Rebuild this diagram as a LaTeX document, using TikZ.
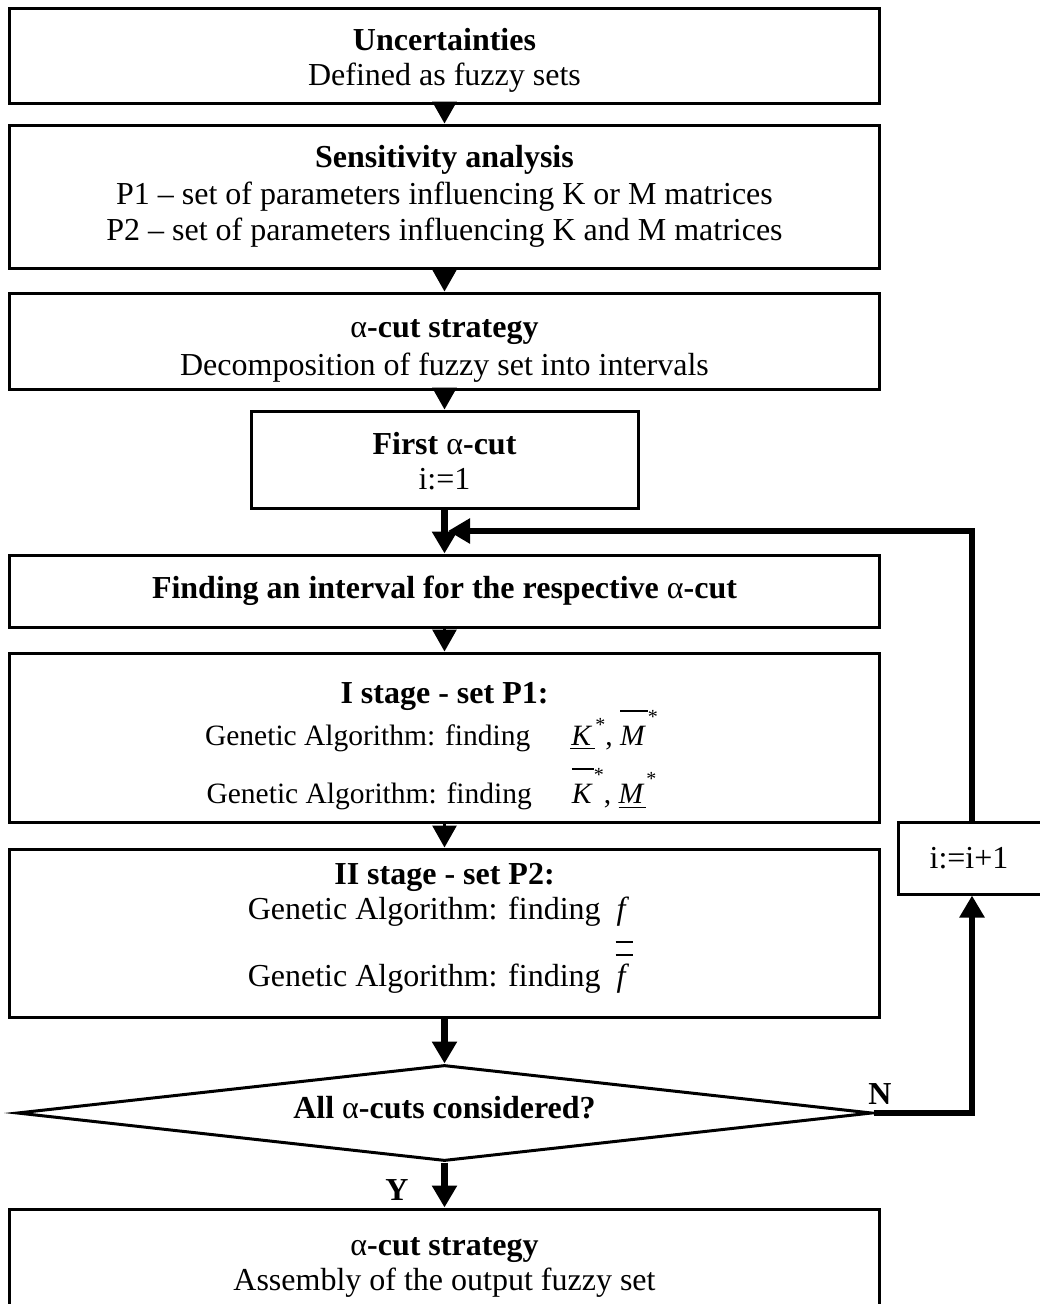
\documentclass[tikz,border=0pt]{standalone}
\usepackage{fontspec}
\setmainfont{Liberation Serif}
\usetikzlibrary{arrows.meta,shapes.geometric}

% upright alpha, also inside bold text
\newcommand\alp{{\normalfont α}}
% bar above / below a symbol, without changing the line height
\newcommand\highbar[2]{\setbox0=\hbox{#2}\rlap{\raisebox{#1}[0pt][0pt]{\rule{\wd0}{1.4pt}}}\box0}
\newcommand\lowbar[2]{\setbox0=\hbox{#2}\rlap{\raisebox{-#1}[0pt][0pt]{\rule{\wd0}{1.4pt}}}\box0}
% raised asterisk
\newcommand\starat[1]{\raisebox{#1}[0pt][0pt]{\fontsize{20}{20}\selectfont *}}

\begin{document}
\begin{tikzpicture}[x=1pt,y=-1pt,
  box/.style={draw, line width=3pt, inner sep=0pt, align=center,
              font=\fontsize{32}{35}\selectfont},
  decision/.style={draw, diamond, aspect=9, line width=3pt, inner sep=0pt,
              font=\fontsize{32}{35}\selectfont},
  lab/.style={inner sep=0pt, font=\fontsize{32}{35}\selectfont\bfseries},
  tip/.style={-{Triangle[length=22pt,width=24pt]}},
  thinarrow/.style={tip, line width=3pt},
  thickarrow/.style={tip, line width=6.5pt}]

\useasboundingbox (0,0) rectangle (1040,1304);

% process boxes
\node[box, minimum width=870pt, minimum height=95pt] (b1) at (444.5,55.5)
  {\rule{0pt}{31pt}\textbf{Uncertainties}\\Defined as fuzzy sets};
\node[box, minimum width=870pt, minimum height=143pt] (b2) at (444.5,196.5)
  {\textbf{Sensitivity analysis}\\[1.5pt]
   P1 – set of parameters influencing K or M matrices\\[1.5pt]
   P2 – set of parameters influencing K and M matrices};
\node[box, minimum width=870pt, minimum height=96pt] (b3) at (444.5,341)
  {\rule{0pt}{37pt}\textbf{\alp-cut strategy}\\[3pt]Decomposition of fuzzy set into intervals};
\node[box, minimum width=387pt, minimum height=97pt] (b4) at (444.5,459.5)
  {\rule{0pt}{26pt}\textbf{First \alp-cut}\\i:=1};
\node[box, minimum width=870pt, minimum height=72pt] (b5) at (444.5,591)
  {\textbf{Finding an interval for the respective \alp-cut}};
\node[box, minimum width=870pt, minimum height=169pt,
      font=\fontsize{29.5}{42}\selectfont] (b6) at (444.5,737.5)
  {\rule{0pt}{37.4pt}{\fontsize{32}{42}\selectfont\bfseries I stage - set P1:}\\
   Genetic Algorithm: finding\hspace{40pt}\lowbar{4.4pt}{\kern1pt\textit{K}\kern3pt}\starat{13.5pt}, \highbar{33.5pt}{\textit{M}\kern2pt}\starat{21.5pt}\kern26pt\\[16pt]
   Genetic Algorithm: finding\hspace{40pt}\highbar{33.5pt}{\textit{K}\kern1pt}\starat{21.5pt}, \lowbar{5pt}{\textit{M}\kern2pt}\starat{17.5pt}\kern26pt};
\node[box, minimum width=870pt, minimum height=168pt] (b7) at (444.5,933)
  {\textbf{II stage - set P2:}\\
   Genetic Algorithm: finding\hspace{15pt}\lowbar{23pt}{\kern1pt\textit{f}\kern4pt}\kern8pt\\[32pt]
   Genetic Algorithm: finding\hspace{15pt}\highbar{31pt}{\kern1pt\textit{f}\kern4pt}\kern8pt\rule[-15.5pt]{0pt}{15.5pt}};
\node[decision, minimum width=855pt, minimum height=96pt] (dec) at (444.5,1113)
  {\textbf{All \alp-cuts considered?}\rule[-12pt]{0pt}{12pt}};
\node[box, minimum width=870pt, minimum height=98pt] (b8) at (444.5,1258)
  {\rule{0pt}{37pt}\textbf{\alp-cut strategy}\\Assembly of the output fuzzy set};
\node[box, minimum width=150pt, minimum height=72pt] (ib) at (973,858)
  {i:=i+1\kern8pt};

% branch labels
\node[lab] (nlab) at (880,1094) {N};
\node[lab] (ylab) at (397,1190) {Y};

% loop geometry
\coordinate (lx) at (972,0);
\coordinate (join) at (448,531);

% main flow
\draw[thinarrow] (b1.south) -- (b2.north);
\draw[thinarrow] (b2.south) -- (b3.north);
\draw[thinarrow] (b3.south) -- (b4.north);
\draw[thickarrow] (b4.south) -- (b5.north);
\draw[thinarrow] (b5.south) -- (b6.north);
\draw[thinarrow] (b6.south) -- (b7.north);
\draw[thickarrow] (b7.south) -- (dec.north);
\draw[thickarrow] (dec.south) -- (b8.north);

% loop back to the next alpha-cut
\draw[thickarrow] (dec.east) -- (dec.east -| lx) -- (ib.south -| lx);
\draw[thickarrow] (ib.north -| lx) -- (lx |- join) -- (join);
\end{tikzpicture}
\end{document}
